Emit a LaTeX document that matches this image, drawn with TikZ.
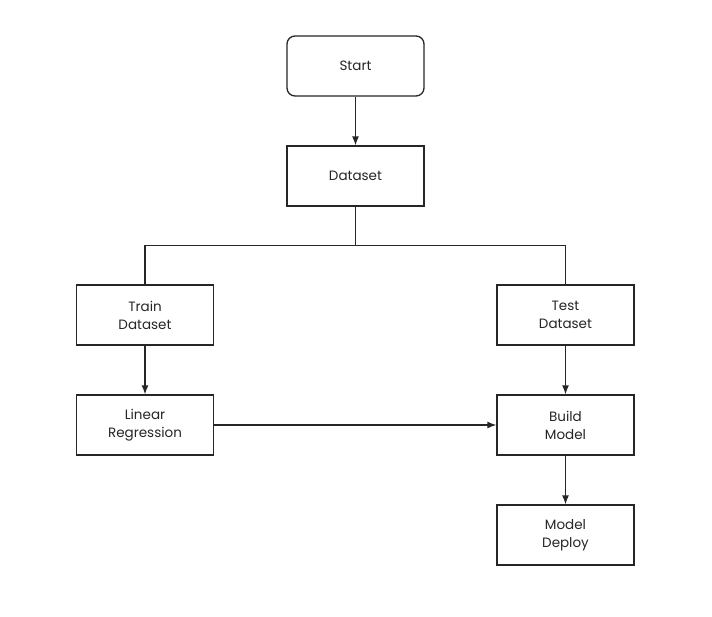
\documentclass[tikz,border=0pt]{standalone}
\usepackage{fontspec}
\setmainfont{Poppins}
\usetikzlibrary{arrows.meta}
\begin{document}
\begin{tikzpicture}[x=1pt,y=-1pt,
  box/.style={draw=black!85, line width=1.3pt, minimum width=137pt, minimum height=60pt,
    align=center, inner sep=0pt, font=\fontsize{13.5}{18}\selectfont, text=black!85},
  roundbox/.style={box, rounded corners=8pt},
  link/.style={draw=black!85, line width=1.3pt},
  flow/.style={link, -{Latex[length=9pt,width=7pt]}}]
  \useasboundingbox[fill=white] (0,0) rectangle (712,616);
  % nodes
  \node[roundbox] (start)   at (355.5,66)  {Start};
  \node[box]      (data)    at (355.5,176) {Dataset};
  \node[box]      (train)   at (145,315)   {Train\\Dataset};
  \node[box]      (test)    at (565.5,315) {Test\\Dataset};
  \node[box]      (linreg)  at (145,425)   {Linear\\Regression};
  \node[box]      (build)   at (565.5,425) {Build\\Model};
  \node[box]      (deploy)  at (565.5,535) {Model\\Deploy};
  % split of the dataset
  \coordinate (split) at (355.5,245.5);
  \draw[link] (data.south) -- (split) -| (train.north);
  \draw[link] (split) -| (test.north);
  % arrows
  \draw[flow] (start) -- (data);
  \draw[flow] (train) -- (linreg);
  \draw[flow] (test) -- (build);
  \draw[flow] (linreg) -- (build);
  \draw[flow] (build) -- (deploy);
\end{tikzpicture}
\end{document}
